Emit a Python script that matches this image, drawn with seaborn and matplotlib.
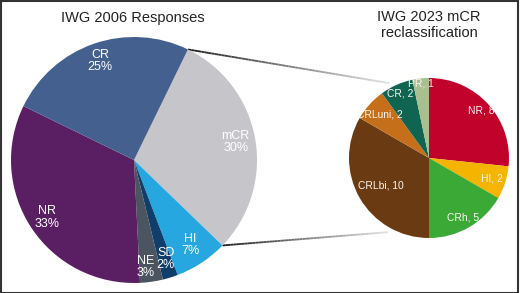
import numpy as np
import matplotlib
matplotlib.use("Agg")
import matplotlib.pyplot as plt
import seaborn as sns
from matplotlib.collections import LineCollection
from matplotlib.patches import Rectangle

# ---- data ----
left_title = "IWG 2006 Responses"
left_labels = ["mCR", "HI", "SD", "NE", "NR", "CR"]
left_values = [30, 7, 2, 3, 33, 25]

right_title = "IWG 2023 mCR\nreclassification"
right_labels = ["NR", "HI", "CRh", "CRLbi", "CRLuni", "CR", "PR"]
right_values = [8, 2, 5, 10, 2, 2, 1]

# ---- style ----
left_colors = ["#c6c6ca", "#27a7df", "#0f3e6b", "#4b5561", "#5a1f62", "#44608f"]
left_label_dist = [0.84, 0.83, 0.845, 0.875, 0.85, 0.85]
left_label_rot = [0, 0, 0.5, -2.0, 0, 0]
right_colors = ["#c1022b", "#f4b400", "#3aa935", "#6a3a12", "#c66f1a", "#0f6551", "#a9bf8f"]
right_label_dist = [0.88, 0.83, 0.86, 0.70, 0.82, 0.88, 0.94]

sns.set_theme(style="white")
plt.rcParams["font.family"] = ["Liberation Sans", "DejaVu Sans"]

W, H = 520, 293
fig = plt.figure(figsize=(5.2, 2.93), dpi=100)
ax = fig.add_axes([0, 0, 1, 1])
ax.set_xlim(0, W)
ax.set_ylim(0, H)
ax.set_aspect("equal")
ax.axis("off")

def place_labels(wedges, texts, center, radius, dists, rots, **kw):
    for w, s, d, r in zip(wedges, texts, dists, rots):
        mid = np.deg2rad((w.theta1 + w.theta2) / 2 + r)
        ax.text(center[0] + d * radius * np.cos(mid), center[1] + d * radius * np.sin(mid),
                s, ha="center", va="center", **kw)

# left pie
lc, lr = (134, 133), 123
lw_, _ = ax.pie(left_values, colors=left_colors, startangle=64, counterclock=False,
                center=lc, radius=lr, frame=True, wedgeprops=dict(linewidth=0))
place_labels(lw_, [f"{l}\n{v}%" for l, v in zip(left_labels, left_values)], lc, lr,
             left_label_dist, left_label_rot, color="white", fontsize=9, linespacing=1.05)

# right pie
rc, rr = (429, 135), 80
rw, _ = ax.pie(right_values, colors=right_colors, startangle=90, counterclock=False,
               center=rc, radius=rr, frame=True, wedgeprops=dict(linewidth=0))
place_labels(rw, [f"{l}, {v}" for l, v in zip(right_labels, right_values)], rc, rr,
             right_label_dist, [0] * len(right_values), color="#fbf6ee", fontsize=7.4)

ax.set_xlim(0, W)
ax.set_ylim(0, H)
ax.axis("off")

# titles
ax.text(133, 275, left_title, fontsize=10.5, ha="center", va="center", color="#222222")
ax.text(429, 268, right_title, fontsize=10.5, ha="center", va="center", color="#222222",
        linespacing=1.15)

# connectors (gradient lines) from mCR wedge edges to the right pie
m = lw_[0]
def gradient_line(p0, p1):
    n = 60
    xs = np.linspace(p0[0], p1[0], n + 1)
    ys = np.linspace(p0[1], p1[1], n + 1)
    segs = [[(xs[i], ys[i]), (xs[i + 1], ys[i + 1])] for i in range(n)]
    g = np.linspace(0.1, 0.88, n)
    cols = [(c, c, c) for c in g]
    ax.add_collection(LineCollection(segs, colors=cols, linewidths=1.3, zorder=0))

for ang, rang in [(m.theta2, 118), (m.theta1, -119)]:
    a = np.deg2rad(ang)
    p0 = (lc[0] + lr * np.cos(a), lc[1] + lr * np.sin(a))
    b = np.deg2rad(rang)
    p1 = (rc[0] + 1.06 * rr * np.cos(b), rc[1] + 1.06 * rr * np.sin(b))
    gradient_line(p0, p1)

# figure frame
fig.patches.append(Rectangle((0.5, 0.5), W - 2.5, H - 1.5, transform=None, fill=False,
                             edgecolor="#333333", linewidth=1.5))

fig.savefig("out.png", dpi=100)
